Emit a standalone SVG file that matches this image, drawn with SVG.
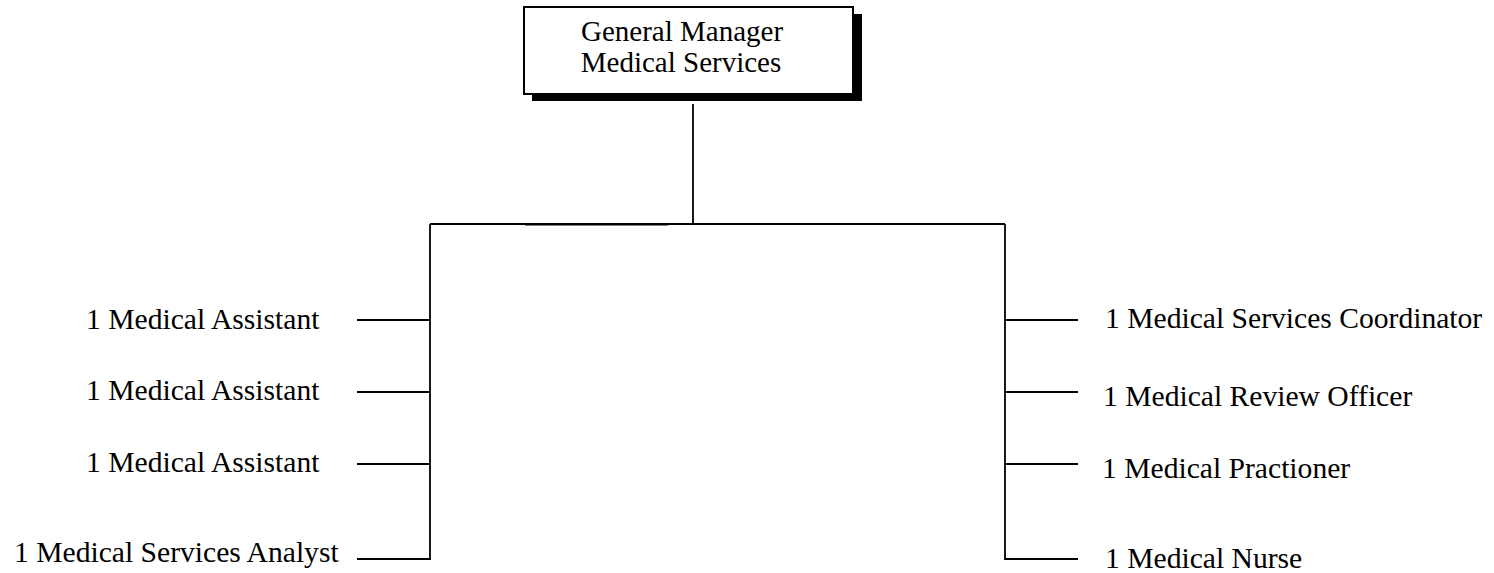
<svg xmlns="http://www.w3.org/2000/svg" width="1494" height="573" viewBox="0 0 1494 573">
<style>
text{font-family:"Liberation Serif","Times New Roman",serif;font-size:29.6px;fill:#000}
.c{stroke:#000;stroke-width:1.8;fill:none}
</style>
<rect width="1494" height="573" fill="#fff"/>
<g id="connectors">
<line class="c" x1="693" y1="104" x2="693" y2="224"/>
<line class="c" x1="430" y1="224" x2="1005" y2="224"/>
<line x1="525" y1="224.3" x2="668" y2="224.3" stroke="#000" stroke-width="2.6"/>
<polyline class="c" points="430,224 430,559 357,559"/>
<line class="c" x1="357" y1="320" x2="430" y2="320"/>
<line class="c" x1="357" y1="392" x2="430" y2="392"/>
<line class="c" x1="357" y1="464" x2="430" y2="464"/>
<polyline class="c" points="1005,224 1005,559 1078,559"/>
<line class="c" x1="1005" y1="320" x2="1078" y2="320"/>
<line class="c" x1="1005" y1="392" x2="1078" y2="392"/>
<line class="c" x1="1005" y1="464" x2="1078" y2="464"/>
</g>
<g id="gm">
<rect x="532" y="14" width="330" height="87" fill="#000"/>
<rect x="524" y="7" width="329" height="87" fill="#fff" stroke="#000" stroke-width="2"/>
<text x="682" y="41" text-anchor="middle" style="font-size:29px">General Manager</text>
<text x="681" y="72" text-anchor="middle" style="font-size:29px">Medical Services</text>
</g>
<g id="ma1"><text x="86" y="329">1 Medical Assistant</text></g>
<g id="ma2"><text x="86" y="400">1 Medical Assistant</text></g>
<g id="ma3"><text x="86" y="472">1 Medical Assistant</text></g>
<g id="msa"><text x="14" y="562">1 Medical Services Analyst</text></g>
<g id="msc"><text x="1105" y="328">1 Medical Services Coordinator</text></g>
<g id="mro"><text x="1103" y="406">1 Medical Review Officer</text></g>
<g id="mp"><text x="1102" y="478">1 Medical Practioner</text></g>
<g id="mn"><text x="1105" y="568">1 Medical Nurse</text></g>
</svg>
